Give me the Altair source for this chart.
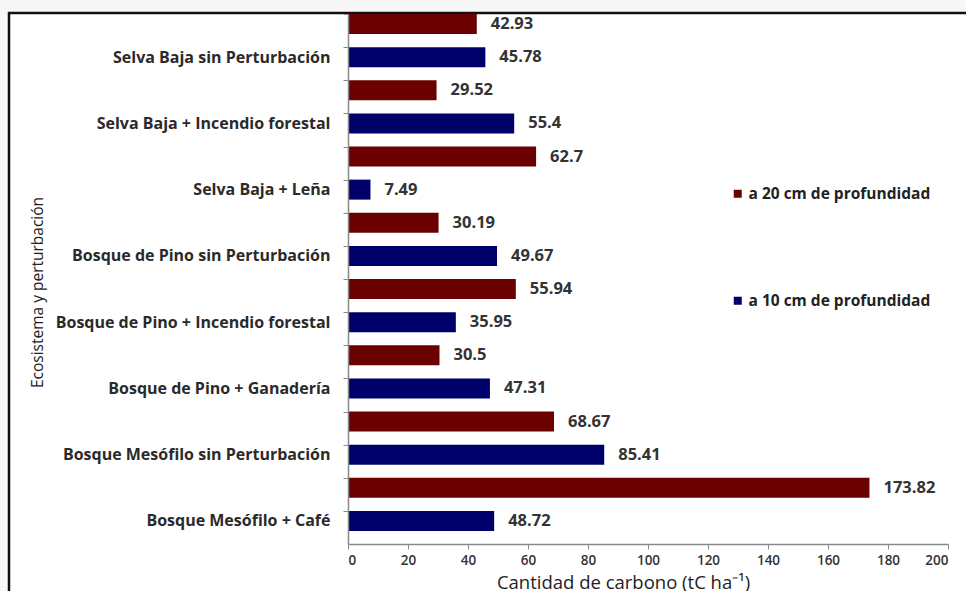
import altair as alt
import pandas as pd

# Ecosystems, listed from top to bottom of the chart
categorias = [
    "Selva Baja sin Perturbación",
    "Selva Baja + Incendio forestal",
    "Selva Baja + Leña",
    "Bosque de Pino sin Perturbación",
    "Bosque de Pino + Incendio forestal",
    "Bosque de Pino + Ganadería",
    "Bosque Mesófilo sin Perturbación",
    "Bosque Mesófilo + Café",
]
carbono_20cm = [42.93, 29.52, 62.7, 30.19, 55.94, 30.5, 68.67, 173.82]
carbono_10cm = [45.78, 55.4, 7.49, 49.67, 35.95, 47.31, 85.41, 48.72]

serie_20 = "a 20 cm de profundidad"
serie_10 = "a 10 cm de profundidad"

filas = []
orden = []
for cat, v20, v10 in zip(categorias, carbono_20cm, carbono_10cm):
    filas.append({"fila": cat + "|20", "serie": serie_20, "valor": v20})
    filas.append({"fila": cat, "serie": serie_10, "valor": v10})
    orden += [cat + "|20", cat]
df = pd.DataFrame(filas)
df["etiqueta"] = df["valor"].map(lambda v: f"{v:g}")

FONT = "Open Sans"
W, H = 600, 530
band = H / len(orden)
bar_h = 20
shift = bar_h / 2 - band / 2  # bars sit at the top of each row

y_enc = alt.Y(
    "fila:N",
    sort=orden,
    scale=alt.Scale(domain=orden, paddingInner=0, paddingOuter=0),
    axis=alt.Axis(
        zindex=1,
        title="Ecosistema y perturbación",
        titleFont=FONT, titleFontSize=15.5, titleFontWeight="normal", titleColor="#222",
        titleAngle=-90, titleX=-311, titleY=278, titleAlign="center", titleBaseline="middle",
        labelExpr="indexof(datum.value, '|') >= 0 ? '' : datum.value",
        labelFont=FONT, labelFontSize=16, labelFontWeight="bold", labelColor="#2a2a2a",
        labelPadding=13, labelLimit=400,
        tickOffset=-band / 2, labelOffset=bar_h / 2,
        domainColor="#888", tickColor="#888", tickSize=5, domainWidth=1.5,
    ),
)

x_enc = alt.X(
    "valor:Q",
    scale=alt.Scale(domain=[0, 200], nice=False),
    axis=alt.Axis(
        zindex=1,
        title="Cantidad de carbono (tC ha⁻¹)",
        titleFont=FONT, titleFontSize=18.5, titleFontWeight="normal", titleColor="#222",
        titleX=275, titleY=44, titleAnchor="middle", titleBaseline="alphabetic",
        values=list(range(0, 201, 20)),
        labelFont=FONT, labelFontSize=13.5, labelFontWeight=600, labelColor="#333", labelPadding=4,
        domainColor="#888", tickColor="#888", tickSize=5, domainWidth=1.5,
        grid=False,
    ),
)

color_enc = alt.Color(
    "serie:N",
    scale=alt.Scale(domain=[serie_20, serie_10], range=["#6b0000", "#00006b"]),
    legend=alt.Legend(
        title=None, orient="none", legendX=382, legendY=172,
        symbolType="square", symbolSize=64, symbolStrokeWidth=0,
        labelFont=FONT, labelFontSize=15.5, labelFontWeight="bold", labelColor="#222",
        labelLimit=300, rowPadding=90, labelOffset=3,
    ),
)

# page frame: white panel with a dark border on the grey page
marco = alt.Chart(pd.DataFrame({"k": [0]})).mark_rect(
    fill="white", stroke="#111", strokeWidth=2.5, clip=False
).encode(
    x=alt.value(-339), x2=alt.value(W + 30), y=alt.value(-1), y2=alt.value(H + 80)
)

barras = alt.Chart(df).mark_bar(height=bar_h, yOffset=shift).encode(
    x=x_enc, y=y_enc, color=color_enc
)

textos = alt.Chart(df).mark_text(
    align="left", baseline="middle", dx=14, yOffset=shift,
    font=FONT, fontSize=16.5, fontWeight="bold", color="#333",
).encode(x="valor:Q", y=alt.Y("fila:N", sort=orden), text="etiqueta:N")

chart = (
    alt.layer(marco, barras, textos)
    .properties(
        width=W, height=H,
        autosize=alt.AutoSizeParams(type="none"),
        padding={"left": 348, "top": 14, "right": 18, "bottom": 47},
        background="#f7f7f7",
    )
    .configure_view(strokeWidth=0)
)

chart.save("out.html", embed_options={"renderer": "svg", "actions": False})
